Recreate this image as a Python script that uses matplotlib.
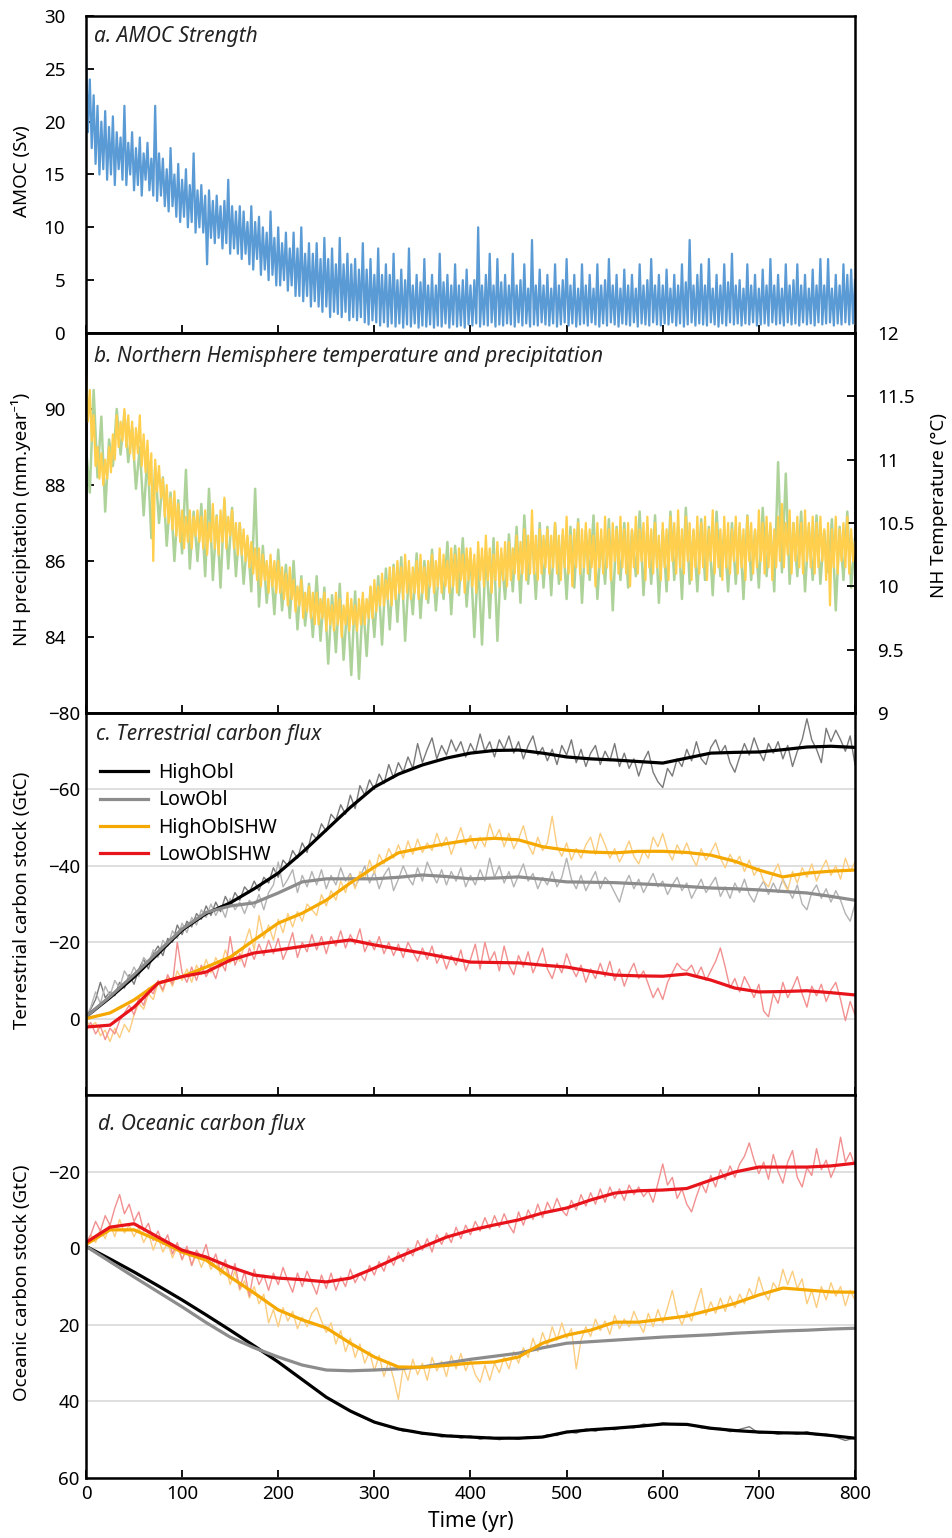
import numpy as np
import matplotlib
matplotlib.use('Agg')
import matplotlib.pyplot as plt

plt.rcParams['font.family'] = ['Noto Sans', 'DejaVu Sans']
plt.rcParams['axes.unicode_minus'] = True

# time axes (years)
yr2 = np.arange(0, 801, 2)
yr4 = np.arange(0, 801, 4)
yr5 = np.arange(0, 801, 5)
yr10 = np.arange(0, 801, 10)
yr25 = np.arange(0, 801, 25)

# a. AMOC strength (Sv), every 2 yr
amoc = [26.5, 19.0, 24.0, 17.5, 22.5, 16.0, 21.5, 15.0, 20.0, 15.5, 21.0, 14.5, 19.5, 15.0, 20.5, 14.0, 19.0, 15.5, 18.5, 14.5,
        21.5, 14.0, 18.0, 15.0, 19.0, 13.5, 17.5, 14.0, 18.5, 13.0, 17.0, 14.5, 18.0, 13.5, 16.5, 13.0, 21.5, 12.5, 17.0, 13.0,
        16.5, 12.0, 15.5, 11.5, 17.5, 12.0, 15.0, 11.0, 16.0, 10.5, 14.5, 11.0, 15.5, 10.0, 14.0, 10.5, 17.0, 9.5, 13.5, 10.0,
        14.0, 9.5, 13.0, 6.5, 13.5, 9.0, 12.5, 8.5, 13.0, 9.0, 12.0, 8.0, 12.5, 8.5, 14.5, 7.5, 12.0, 8.0, 11.5, 7.5,
        12.0, 7.0, 11.5, 7.5, 10.5, 6.5, 12.0, 6.0, 10.5, 7.0, 11.0, 5.5, 10.0, 6.0, 9.5, 5.0, 11.5, 5.5, 9.0, 4.5,
        10.0, 4.5, 8.5, 5.0, 9.5, 4.0, 8.0, 4.5, 9.5, 3.5, 8.0, 3.5, 10.0, 3.0, 7.5, 3.5, 8.5, 2.5, 7.5, 3.0,
        8.5, 2.5, 7.0, 2.0, 9.0, 2.5, 7.0, 1.5, 8.0, 2.0, 6.5, 1.8, 9.0, 1.5, 6.5, 2.0, 7.5, 1.2, 6.5, 1.5,
        7.0, 1.2, 6.0, 1.5, 8.5, 1.0, 6.0, 0.8, 7.0, 1.2, 5.5, 1.0, 8.0, 0.7, 5.5, 1.0, 6.5, 0.6, 5.5, 0.9,
        7.5, 0.6, 5.0, 0.9, 6.0, 0.5, 5.0, 0.8, 8.0, 0.6, 4.5, 0.9, 5.5, 0.5, 4.8, 0.7, 7.0, 0.6, 4.5, 0.8,
        5.5, 0.5, 4.5, 0.7, 7.5, 0.6, 4.8, 0.9, 5.5, 0.5, 4.5, 0.8, 6.5, 0.6, 4.5, 0.7, 5.0, 0.5, 6.0, 0.8,
        4.5, 0.7, 5.0, 0.9, 10.0, 0.6, 4.5, 0.8, 5.5, 0.7, 7.5, 1.0, 4.5, 0.6, 7.0, 0.8, 4.8, 0.7, 5.5, 0.9,
        4.5, 0.8, 7.5, 0.6, 4.5, 1.0, 5.0, 0.7, 6.5, 0.9, 4.2, 0.6, 8.8, 0.8, 4.5, 0.7, 6.0, 1.0, 4.5, 0.8,
        5.5, 0.7, 4.2, 0.9, 6.5, 0.6, 4.5, 0.8, 5.0, 1.0, 7.0, 0.7, 4.5, 0.9, 5.5, 0.6, 4.2, 0.8, 6.5, 0.9,
        4.5, 0.7, 5.5, 1.0, 4.2, 0.8, 6.5, 0.6, 4.5, 0.9, 5.0, 0.7, 7.0, 1.0, 4.5, 0.8, 5.5, 0.6, 4.2, 0.9,
        6.0, 0.8, 4.5, 0.7, 5.5, 1.0, 4.2, 0.6, 6.5, 0.9, 4.5, 0.8, 5.0, 0.7, 7.0, 1.0, 4.5, 0.8, 5.5, 0.7,
        4.5, 0.9, 6.0, 0.8, 4.2, 1.0, 5.5, 0.7, 4.5, 0.9, 6.5, 0.6, 4.8, 0.8, 8.8, 1.0, 4.5, 0.7, 5.5, 0.9,
        6.5, 0.8, 4.5, 0.7, 7.0, 1.0, 4.2, 0.8, 5.5, 0.6, 4.5, 0.9, 6.5, 0.7, 4.8, 1.0, 7.5, 0.8, 4.5, 0.9,
        5.0, 0.7, 4.2, 0.9, 6.5, 0.8, 4.5, 1.0, 5.5, 0.7, 4.2, 0.8, 6.0, 0.9, 4.5, 0.7, 7.0, 1.0, 4.5, 0.8,
        5.5, 0.9, 4.2, 0.7, 6.5, 1.0, 4.5, 0.8, 5.0, 0.9, 6.5, 0.7, 4.5, 1.0, 5.5, 0.8, 4.2, 0.9, 6.0, 0.7,
        4.5, 1.0, 7.0, 0.8, 4.5, 0.9, 7.0, 1.0, 4.2, 0.7, 5.5, 0.9, 4.5, 0.8, 6.5, 1.0, 5.5, 0.8, 6.0, 0.9,
        5.0]

# b. NH precipitation (mm/yr, every 4 yr) and NH temperature (C, every 2 yr)
nh_precip = [89.0, 87.8, 90.5, 88.2, 89.8, 87.3, 89.2, 88.5, 90.0, 88.8,
             89.9, 88.6, 89.5, 87.9, 89.0, 87.2, 88.8, 86.6, 88.5, 87.0,
             88.2, 86.4, 87.8, 86.0, 87.6, 86.2, 88.4, 85.8, 87.3, 86.0,
             87.5, 85.6, 87.9, 85.5, 87.2, 85.3, 87.6, 85.8, 87.4, 85.6,
             87.0, 85.4, 86.6, 85.2, 87.9, 84.8, 86.4, 84.9, 86.0, 84.6,
             86.3, 84.7, 85.9, 84.5, 86.0, 84.2, 85.6, 84.3, 85.4, 84.0,
             85.6, 83.9, 85.3, 83.3, 85.1, 83.6, 85.4, 83.4, 84.9, 83.0,
             85.2, 82.9, 85.0, 83.5, 85.3, 84.0, 85.6, 83.8, 85.8, 84.2,
             85.9, 84.4, 86.1, 83.9, 85.7, 84.6, 86.2, 84.5, 86.0, 84.9,
             86.3, 84.7, 86.0, 85.0, 86.5, 84.6, 86.4, 85.1, 86.6, 84.8,
             86.2, 84.0, 86.0, 83.8, 86.3, 84.5, 86.6, 83.9, 86.2, 85.0,
             86.7, 85.2, 86.9, 84.9, 87.2, 85.4, 86.8, 85.0, 87.0, 85.3,
             86.9, 85.1, 87.0, 85.4, 86.7, 85.0, 86.9, 85.3, 87.1, 84.9,
             86.8, 85.5, 87.2, 85.0, 86.6, 85.4, 87.1, 84.7, 86.9, 85.5,
             87.0, 85.3, 86.8, 85.6, 87.3, 85.1, 86.9, 85.4, 87.2, 84.9,
             86.8, 85.2, 87.3, 85.5, 86.9, 85.0, 87.4, 85.4, 86.8, 85.2,
             87.1, 85.5, 86.9, 85.1, 87.3, 85.6, 86.8, 85.2, 87.0, 85.4,
             86.9, 85.0, 87.2, 85.5, 86.8, 85.3, 87.4, 85.6, 86.9, 85.2,
             88.6, 85.7, 88.3, 85.4, 87.0, 85.6, 87.3, 85.2, 86.9, 85.5,
             87.2, 85.4, 86.8, 85.7, 87.1, 84.7, 86.9, 85.5, 87.3, 85.3,
             86.6]
nh_temp = [11.70, 11.30, 11.55, 11.15, 11.35, 10.95, 11.10, 10.85, 11.05, 10.80, 11.00, 10.85, 11.10, 10.90, 11.20, 11.00, 11.35, 11.10, 11.30, 11.15,
           11.40, 11.10, 11.35, 11.05, 11.30, 11.00, 11.25, 11.05, 11.35, 10.95, 11.20, 10.90, 11.15, 10.80, 11.05, 10.20, 11.00, 10.75, 10.95, 10.70,
           10.85, 10.55, 10.80, 10.50, 10.70, 10.45, 10.75, 10.40, 10.65, 10.35, 10.60, 10.30, 10.55, 10.35, 10.60, 10.30, 10.55, 10.40, 10.60, 10.35,
           10.55, 10.30, 10.60, 10.25, 10.50, 10.35, 10.65, 10.30, 10.55, 10.25, 10.60, 10.35, 10.70, 10.30, 10.55, 10.40, 10.60, 10.30, 10.50, 10.25,
           10.50, 10.25, 10.45, 10.20, 10.40, 10.15, 10.35, 10.10, 10.30, 10.05, 10.30, 10.00, 10.25, 10.05, 10.20, 9.95, 10.25, 10.00, 10.20, 9.95,
           10.20, 9.95, 10.15, 9.90, 10.10, 9.85, 10.15, 9.90, 10.05, 9.80, 10.00, 9.85, 10.05, 9.75, 9.95, 9.80, 10.00, 9.75, 9.95, 9.70,
           9.95, 9.70, 9.90, 9.75, 9.95, 9.65, 9.90, 9.70, 9.85, 9.65, 9.95, 9.70, 9.90, 9.60, 9.85, 9.70, 9.95, 9.65, 9.90, 9.70,
           9.85, 9.65, 9.90, 9.70, 9.95, 9.70, 9.90, 9.75, 10.00, 9.75, 10.05, 9.80, 10.00, 9.85, 10.10, 9.85, 10.05, 9.90, 10.15, 9.85,
           10.15, 9.90, 10.20, 9.95, 10.15, 9.90, 10.25, 9.95, 10.20, 9.90, 10.15, 9.95, 10.20, 9.90, 10.25, 9.95, 10.15, 9.90, 10.20, 10.00,
           10.25, 9.95, 10.20, 10.00, 10.30, 9.95, 10.25, 10.00, 10.20, 9.95, 10.30, 10.00, 10.25, 9.95, 10.30, 10.05, 10.25, 9.95, 10.30, 10.05,
           10.30, 10.00, 10.25, 9.95, 10.35, 10.05, 10.30, 10.00, 10.40, 10.05, 10.30, 9.95, 10.25, 10.05, 10.35, 10.00, 10.30, 10.05, 10.35, 10.00,
           10.35, 10.05, 10.30, 10.10, 10.40, 10.05, 10.35, 10.10, 10.45, 10.05, 10.40, 10.10, 10.60, 10.10, 10.40, 10.05, 10.45, 10.10, 10.40, 10.15,
           10.45, 10.10, 10.40, 10.15, 10.50, 10.10, 10.40, 10.05, 10.45, 10.15, 10.55, 10.10, 10.40, 10.00, 10.45, 10.15, 10.50, 10.10, 10.45, 10.15,
           10.50, 10.10, 10.45, 10.15, 10.40, 10.00, 10.50, 10.15, 10.45, 10.10, 10.55, 10.15, 10.45, 10.05, 10.50, 10.20, 10.45, 10.10, 10.55, 10.15,
           10.45, 10.10, 10.50, 10.00, 10.45, 10.15, 10.55, 10.10, 10.45, 10.20, 10.50, 10.05, 10.55, 10.15, 10.45, 10.10, 10.50, 10.15, 10.40, 10.05,
           10.50, 10.15, 10.45, 10.05, 10.55, 10.20, 10.50, 10.10, 10.60, 10.15, 10.45, 10.10, 10.55, 10.20, 10.50, 10.05, 10.45, 10.15, 10.55, 10.10,
           10.50, 10.15, 10.55, 10.05, 10.45, 10.20, 10.60, 10.10, 10.50, 10.15, 10.45, 10.05, 10.55, 10.15, 10.50, 10.10, 10.45, 10.20, 10.55, 10.10,
           10.50, 10.15, 10.45, 10.05, 10.55, 10.20, 10.50, 10.10, 10.45, 10.15, 10.60, 10.20, 10.50, 10.10, 10.55, 10.15, 10.50, 10.05, 10.45, 10.15,
           10.55, 10.20, 10.65, 10.15, 10.50, 10.25, 10.60, 10.10, 10.50, 10.20, 10.55, 10.15, 10.50, 10.10, 10.60, 10.20, 10.50, 10.15, 10.55, 10.10,
           10.50, 10.15, 10.55, 10.20, 10.45, 10.05, 10.50, 9.85, 10.45, 10.15, 10.55, 10.10, 10.45, 10.20, 10.50, 10.15, 10.55, 10.10, 10.45, 10.20,
           10.35]

# c. terrestrial carbon stock (GtC): raw (5 yr) and smoothed (25 yr)
terr_high_raw = [-0.5, -2.5, -5.0, -9.5, -5.5, -7.0, -6.0, -9.5, -8.0, -11.5,
                 -9.0, -13.0, -15.5, -13.0, -17.0, -19.0, -16.5, -21.0, -20.0, -24.5,
                 -22.0, -25.5, -24.0, -27.5, -26.0, -29.5, -27.0, -30.5, -28.0, -32.0,
                 -29.5, -33.0, -31.0, -34.5, -33.0, -36.0, -33.5, -37.0, -35.5, -39.5,
                 -37.0, -41.5, -40.0, -44.0, -42.0, -46.0, -43.5, -48.5, -47.0, -51.0,
                 -49.0, -53.5, -52.0, -56.0, -53.5, -58.5, -55.0, -61.0, -58.5, -62.5,
                 -60.0, -64.0, -61.5, -66.5, -63.0, -67.0, -64.5, -68.5, -65.5, -72.0,
                 -67.0, -70.5, -73.5, -68.0, -71.5, -69.0, -73.0, -70.0, -72.5, -68.5,
                 -72.0, -69.5, -74.5, -70.0, -72.5, -68.5, -73.0, -70.5, -74.0, -69.5,
                 -72.5, -68.0, -71.5, -74.0, -69.0, -71.0, -67.5, -70.5, -66.5, -71.5,
                 -69.0, -73.0, -67.0, -70.5, -66.0, -69.5, -71.5, -66.5, -70.0, -67.5,
                 -72.0, -66.0, -69.5, -65.5, -68.0, -63.5, -67.5, -70.0, -64.5, -62.0,
                 -60.5, -65.5, -63.5, -68.0, -66.0, -70.5, -67.5, -72.5, -68.0, -66.5,
                 -71.0, -73.0, -69.5, -71.5, -67.0, -64.5, -68.5, -72.0, -69.0, -73.5,
                 -70.0, -67.5, -72.0, -69.5, -72.5, -68.0, -71.5, -66.0, -70.0, -73.0,
                 -78.5, -73.0, -70.5, -67.0, -76.0, -72.5, -75.5, -73.0, -70.0, -74.0,
                 -66.5]
terr_low_raw = [-0.5, -3.0, -7.0, -4.0, -8.5, -6.0, -10.0, -8.0, -12.5, -10.5,
                -13.5, -11.0, -16.0, -14.5, -18.0, -16.0, -20.5, -19.0, -23.0, -21.0,
                -25.0, -22.5, -26.5, -24.5, -28.5, -26.5, -30.0, -27.0, -29.5, -26.5,
                -31.5, -28.5, -30.5, -27.5, -31.0, -29.0, -32.5, -28.5, -33.0, -35.0,
                -41.0, -34.5, -36.5, -39.0, -33.0, -37.5, -34.5, -38.5, -35.0, -39.0,
                -34.0, -37.5, -35.0, -39.5, -36.0, -38.0, -34.5, -37.0, -40.0, -35.5,
                -38.5, -34.0, -37.5, -39.5, -33.5, -36.5, -40.0, -37.0, -35.0, -39.5,
                -36.0, -41.0, -38.0, -35.5, -39.0, -35.0, -38.5, -36.0, -39.5, -34.5,
                -37.5, -35.0, -39.0, -36.0, -42.0, -37.0, -40.0, -35.5, -38.5, -34.5,
                -37.5, -40.5, -36.0, -38.0, -34.0, -37.0, -35.0, -38.5, -34.5, -37.0,
                -42.0, -36.5, -34.0, -37.5, -33.5, -36.0, -38.5, -34.0, -37.0, -35.5,
                -33.0, -30.5, -35.0, -37.5, -34.0, -36.5, -33.0, -35.5, -38.0, -34.5,
                -36.0, -32.5, -35.0, -37.0, -33.5, -35.5, -31.5, -34.0, -36.5, -33.0,
                -35.0, -37.0, -32.0, -34.5, -31.5, -35.5, -33.0, -36.5, -32.5, -30.5,
                -34.0, -36.0, -32.5, -35.5, -33.0, -36.5, -34.0, -31.5, -35.0, -30.0,
                -28.5, -33.0, -35.0, -31.5, -34.0, -30.5, -33.5, -31.0, -27.5, -25.5,
                -30.0]
terr_highshw_raw = [0.5, 2.0, 1.0, 4.5, 3.0, 6.0, 2.5, 5.0, 1.5, 3.5,
                    -1.0, -4.0, -2.5, -6.5, -5.0, -9.5, -7.0, -11.0, -8.5, -12.5,
                    -10.0, -13.0, -9.5, -14.0, -11.5, -15.5, -12.0, -16.0, -13.5, -18.0,
                    -14.5, -17.5, -15.0, -19.5, -23.5, -18.0, -27.0, -21.0, -24.5, -20.5,
                    -26.0, -22.5, -27.5, -24.0, -28.0, -25.5, -30.0, -28.5, -27.0, -32.5,
                    -29.5, -33.5, -31.0, -36.0, -33.0, -37.5, -34.0, -38.5, -36.5, -41.5,
                    -38.0, -43.0, -40.5, -44.5, -42.0, -45.5, -42.0, -46.5, -43.0, -47.0,
                    -43.5, -46.0, -44.0, -48.5, -45.0, -47.5, -43.0, -46.5, -50.0, -45.5,
                    -48.0, -44.5, -47.5, -45.0, -51.0, -47.0, -49.5, -45.0, -48.5, -44.5,
                    -47.0, -50.5, -45.5, -43.0, -47.5, -44.0, -46.0, -53.0, -45.0, -42.5,
                    -46.0, -41.5, -44.5, -42.0, -45.5, -47.5, -43.0, -48.5, -45.5, -42.0,
                    -44.5, -41.0, -43.5, -46.5, -42.5, -40.5, -44.0, -42.0, -47.5, -45.0,
                    -48.5, -44.0, -41.5, -45.5, -43.0, -46.0, -42.5, -40.0, -44.5, -41.5,
                    -43.5, -46.0, -42.0, -39.5, -43.0, -40.5, -42.5, -38.5, -41.5, -37.5,
                    -39.5, -36.0, -34.5, -38.0, -40.5, -36.0, -33.5, -38.5, -35.5, -39.5,
                    -37.0, -40.5, -36.0, -39.0, -41.5, -37.5, -40.0, -36.5, -42.0, -38.5,
                    -41.0]
terr_lowshw_raw = [3.0, 1.0, 4.0, 2.0, 5.5, 2.5, 4.0, 0.5, -1.5, -3.5,
                   -1.0, -5.5, -3.5, -8.0, -6.5, -10.0, -7.5, -11.5, -9.0, -20.0,
                   -12.0, -9.5, -13.5, -10.0, -14.0, -11.0, -13.5, -10.5, -15.0, -12.5,
                   -21.5, -14.0, -17.0, -13.5, -18.5, -15.5, -19.5, -16.5, -20.5, -17.0,
                   -21.0, -15.5, -18.5, -22.5, -16.0, -20.0, -17.5, -22.0, -18.0, -21.5,
                   -17.0, -21.5, -19.0, -23.0, -18.5, -22.0, -19.5, -23.5, -17.5, -20.5,
                   -18.0, -21.5, -17.0, -20.0, -16.5, -19.5, -16.0, -20.0, -17.5, -15.0,
                   -18.5, -15.5, -19.0, -14.5, -17.0, -13.0, -16.5, -14.0, -18.0, -12.5,
                   -15.5, -19.5, -13.0, -20.0, -15.0, -17.5, -12.5, -19.0, -14.0, -11.5,
                   -16.5, -13.5, -17.5, -12.0, -15.0, -18.5, -13.0, -10.5, -14.5, -12.0,
                   -17.0, -13.5, -11.0, -14.0, -9.5, -13.0, -10.5, -14.5, -11.0, -15.0,
                   -10.0, -13.0, -8.5, -12.0, -14.5, -10.5, -12.5, -9.0, -5.5, -8.0,
                   -5.0, -9.5, -12.0, -14.5, -13.0, -12.5, -14.0, -11.0, -13.5, -10.0,
                   -12.5, -15.0, -18.5, -13.5, -8.0, -10.5, -7.0, -11.0, -8.5, -5.5,
                   -9.0, -2.0, -0.5, -6.5, -4.0, -9.5, -5.5, -8.0, -11.0, -6.5,
                   -3.0, -8.5, -6.0, -9.0, -4.5, -7.5, -9.5, -5.0, 0.5, -4.5,
                   -1.0]
terr_high = [-0.5, -5.5, -10.9, -17.0, -23.2, -27.5, -30.3, -34.0, -38.1, -43.5, -49.4,
             -55.3, -60.6, -64.0, -66.4, -68.2, -69.5, -70.2, -70.3, -69.5, -68.5, -68.0,
             -67.7, -67.3, -66.9, -68.2, -69.5, -69.7, -69.8, -70.4, -71.1, -71.3, -71.0]
terr_low = [-0.5, -5.8, -11.5, -17.5, -23.5, -27.8, -29.5, -30.3, -32.9, -35.8, -36.6,
            -36.6, -36.6, -37.0, -37.6, -37.2, -36.6, -36.8, -37.1, -36.5, -35.8, -35.7,
            -35.6, -35.3, -35.0, -34.6, -34.2, -34.0, -33.7, -33.3, -32.9, -32.0, -31.0]
terr_highshw = [0.0, -1.5, -4.9, -9.3, -11.0, -13.5, -16.1, -20.6, -25.0, -27.6, -31.0,
                -35.5, -39.7, -43.4, -44.7, -45.8, -46.8, -47.2, -46.8, -45.0, -44.1, -43.6,
                -43.4, -43.8, -43.8, -43.5, -42.8, -41.2, -38.9, -37.1, -38.1, -38.6, -38.9]
terr_lowshw = [2.2, 1.7, -3.0, -9.3, -11.0, -12.2, -15.3, -17.2, -18.0, -18.9, -19.8,
               -20.6, -19.3, -18.2, -17.2, -16.0, -14.8, -14.7, -14.6, -14.0, -13.5, -12.4,
               -11.4, -11.2, -11.1, -11.7, -10.1, -8.0, -7.0, -7.1, -7.3, -6.8, -6.2]

# d. oceanic carbon stock (GtC)
ocean_high_raw = [-0.5, 0.8, 2.1, 3.5, 4.8, 6.2, 7.6, 9.1, 10.6, 12.0,
                  13.5, 15.1, 16.6, 18.2, 19.8, 21.4, 23.0, 24.7, 26.3, 28.0,
                  29.7, 31.6, 33.4, 35.2, 37.1, 38.9, 40.4, 41.8, 43.3, 44.4,
                  45.4, 46.3, 46.8, 47.8, 47.6, 48.6, 48.4, 49.3, 48.8, 49.6,
                  49.0, 49.9, 49.3, 50.0, 49.4, 49.9, 49.2, 49.6, 48.7, 48.9,
                  47.8, 48.3, 47.2, 47.8, 46.9, 47.4, 46.6, 46.9, 45.9, 46.3,
                  45.6, 45.9, 46.2, 46.1, 46.9, 47.2, 47.0, 47.9, 47.3, 46.6,
                  48.3, 48.0, 48.6, 48.1, 48.6, 47.9, 48.8, 48.5, 49.3, 50.2,
                  49.5]
ocean_low_raw = [-0.5, 1.1, 2.7, 4.3, 5.9, 7.5, 9.1, 10.6, 12.2, 13.7,
                 15.3, 17.0, 18.6, 20.2, 21.8, 23.2, 24.6, 25.4, 26.7, 27.4,
                 28.4, 29.3, 30.1, 30.9, 31.3, 31.8, 31.8, 32.1, 31.9, 31.9,
                 31.8, 31.6, 31.6, 31.4, 31.2, 31.0, 30.6, 30.2, 29.8, 29.4,
                 29.0, 28.7, 28.3, 28.0, 27.7, 27.4, 26.8, 26.3, 25.7, 25.2,
                 24.8, 24.7, 24.5, 24.3, 24.2, 24.0, 23.9, 23.7, 23.5, 23.4,
                 23.2, 23.1, 22.9, 22.8, 22.7, 22.6, 22.4, 22.3, 22.2, 22.0,
                 21.9, 21.8, 21.7, 21.6, 21.5, 21.4, 21.3, 21.2, 21.1, 21.0,
                 20.9]
ocean_highshw_raw = [-1.0, -3.5, -1.5, -5.0, -2.5, -6.5, -3.0, -7.5, -4.0, -6.0,
                     -3.0, -5.5, -1.5, -4.0, 0.5, -3.0, 1.0, -1.5, 2.5, -0.5,
                     3.0, 0.0, 4.5, 1.5, 5.0, 2.0, 5.5, 3.0, 7.0, 4.5,
                     9.5, 6.0, 11.0, 8.5, 13.0, 10.0, 14.5, 12.0, 19.5, 16.0,
                     20.5, 15.5, 19.0, 16.5, 21.0, 18.0, 20.5, 17.0, 15.5, 19.0,
                     22.0, 19.5, 25.0, 21.5, 27.0, 23.5, 28.5, 25.0, 30.0, 27.0,
                     32.0, 28.0, 33.5, 29.5, 34.0, 39.5, 31.0, 34.5, 29.0, 33.0,
                     30.0, 34.5, 28.5, 32.0, 29.5, 33.5, 28.0, 31.5, 27.5, 32.0,
                     29.0, 33.0, 35.0, 30.5, 34.5, 30.0, 32.5, 28.5, 31.5, 27.0,
                     30.0, 26.0, 28.5, 23.5, 27.0, 22.0, 25.5, 20.5, 24.0, 19.5,
                     23.5, 21.0, 31.5, 24.0, 20.5, 23.0, 18.5, 21.5, 19.0, 22.5,
                     17.5, 21.0, 18.5, 20.5, 16.5, 19.5, 22.0, 17.0, 20.5, 16.0,
                     19.5, 15.5, 11.0, 17.0, 20.0, 16.5, 19.0, 14.5, 10.5, 17.5,
                     14.0, 17.0, 13.0, 16.5, 12.5, 15.5, 12.0, 14.5, 10.5, 13.0,
                     7.5, 11.5, 13.5, 9.0, 11.0, 5.5, 9.5, 6.0, 10.5, 8.0,
                     14.5, 11.0, 15.5, 10.0, 13.5, 9.0, 12.5, 10.0, 15.0, 11.0,
                     13.5]
ocean_lowshw_raw = [-1.5, -3.5, -7.0, -4.5, -8.5, -6.0, -10.5, -14.0, -9.0, -11.5,
                    -7.0, -9.5, -4.5, -6.5, -2.0, -4.5, -1.0, -3.5, 1.5, -1.5,
                    3.0, -0.5, 4.5, 0.5, 2.5, -1.0, 4.5, 1.5, 6.0, 3.0,
                    8.0, 4.0, 10.5, 6.0, 12.5, 5.5, 9.5, 7.0, 11.0, 6.5,
                    9.5, 5.0, 8.5, 11.5, 6.5, 10.0, 6.0, 9.0, 12.0, 7.0,
                    10.5, 6.5, 11.0, 7.5, 10.0, 5.5, 9.0, 6.5, 8.5, 4.5,
                    7.0, 3.5, 6.0, 2.0, 4.5, 1.0, 3.5, 0.0, 2.0, -2.0,
                    0.5, -2.5, 1.0, -3.5, -1.0, -4.0, -1.5, -5.5, -2.5, -6.0,
                    -3.5, -7.0, -4.5, -8.0, -5.0, -8.5, -5.5, -9.0, -6.0, -4.0,
                    -9.5, -6.0, -10.0, -7.5, -11.5, -8.0, -12.0, -9.5, -13.0, -10.0,
                    -8.5, -12.5, -10.0, -14.0, -11.0, -14.5, -11.5, -15.5, -12.0, -16.0,
                    -13.0, -15.5, -12.5, -16.5, -14.0, -16.0, -13.5, -15.0, -12.0, -17.0,
                    -22.0, -16.5, -18.5, -13.0, -15.5, -11.5, -9.5, -13.5, -17.0, -14.5,
                    -19.0, -16.0, -20.5, -18.0, -21.5, -18.5, -22.0, -24.0, -27.5, -23.0,
                    -19.5, -22.5, -18.0, -24.5, -20.0, -17.0, -22.5, -25.5, -18.5, -16.0,
                    -21.0, -19.0, -26.0, -20.5, -23.0, -18.5, -21.5, -29.0, -22.5, -25.0,
                    -21.5]
ocean_high = [-0.5, 2.8, 6.2, 9.8, 13.5, 17.4, 21.4, 25.5, 29.7, 34.3, 38.9, 42.5,
              45.4, 47.2, 48.3, 49.0, 49.3, 49.6, 49.6, 49.3, 48.0, 47.4, 47.0, 46.5,
              45.9, 46.0, 47.0, 47.6, 48.0, 48.2, 48.3, 48.9, 49.6]
ocean_low = [-0.5, 3.5, 7.5, 11.4, 15.3, 19.4, 23.2, 26.0, 28.4, 30.5, 31.8, 32.0,
             31.8, 31.5, 31.0, 30.0, 29.0, 28.2, 27.4, 26.0, 24.8, 24.4, 24.0, 23.6,
             23.2, 22.9, 22.6, 22.2, 21.9, 21.6, 21.4, 21.1, 20.9]
ocean_highshw = [-1.0, -4.8, -4.8, -2.1, 1.0, 3.1, 7.5, 11.7, 16.1, 18.7, 20.8, 24.8,
                 28.4, 31.0, 31.1, 30.6, 30.0, 29.7, 28.4, 24.8, 22.7, 21.4, 19.3, 19.3,
                 18.5, 17.7, 16.1, 14.4, 12.2, 10.4, 10.9, 11.4, 11.5]
ocean_lowshw = [-1.5, -5.5, -6.4, -2.9, 0.5, 2.3, 4.9, 7.0, 7.8, 8.2, 8.8, 7.8, 5.2,
                2.3, -0.3, -2.9, -4.7, -6.1, -7.4, -9.2, -10.5, -12.6, -14.4, -15.0,
                -15.2, -15.6, -17.8, -19.9, -21.2, -21.2, -21.2, -21.5, -22.2]

runs = ['HighObl', 'LowObl', 'HighOblSHW', 'LowOblSHW']
col_smooth = ['#000000', '#8c8c8c', '#f5a800', '#e8141c']
col_raw = ['#7a7a7a', '#b3b3b3', '#fbcd80', '#f29090']

fs = 13.5
tfs = 15
fig = plt.figure(figsize=(9.52, 15.38), dpi=100)
L, W = 0.0903, 0.8078
ax_a = fig.add_axes([L, 0.7835, W, 0.2061])
ax_b = fig.add_axes([L, 0.5364, W, 0.2471])
ax_c = fig.add_axes([L, 0.2880, W, 0.2484])
ax_d = fig.add_axes([L, 0.0390, W, 0.2490])


def frame(ax, ylab=None, ypad=4.5, ylen=0):
    ax.set_xlim(0, 800)
    ax.set_xticks(range(0, 801, 100))
    ax.tick_params(axis='x', direction='in', length=6, width=1.3, labelsize=fs, pad=5)
    ax.tick_params(axis='y', direction='in', length=ylen, width=1.3, labelsize=fs, pad=ypad)
    for s in ax.spines.values():
        s.set_linewidth(1.8)
    if ylab:
        ax.set_ylabel(ylab, fontsize=fs)
        ax.yaxis.set_label_coords(-0.072, 0.51)


# a. AMOC
ax_a.plot(yr2, amoc, color='#5b9bd5', lw=1.6)
ax_a.set_ylim(0, 30)
ax_a.set_yticks(range(0, 31, 5))
frame(ax_a, 'AMOC (Sv)', ypad=15, ylen=6)
ax_a.tick_params(axis='x', labelbottom=False)
ax_a.text(0.010, 0.970, 'a. AMOC Strength', transform=ax_a.transAxes,
          style='italic', fontsize=tfs, va='top', ha='left', color='#222222')

# b. NH precipitation + temperature
ax_b.plot(yr4, nh_precip, color='#aed39a', lw=1.8)
ax_b.set_ylim(82, 92)
ax_b.set_yticks([84, 86, 88, 90])
frame(ax_b, 'NH precipitation (mm.year\u207b\u00b9)', ypad=15, ylen=6)
ax_b.tick_params(axis='x', labelbottom=False)
ax_b2 = ax_b.twinx()
ax_b2.plot(yr2, nh_temp, color='#ffcf4d', lw=1.6)
ax_b2.set_ylim(9, 12)
ax_b2.set_yticks([9, 9.5, 10, 10.5, 11, 11.5, 12])
ax_b2.set_yticklabels(['9', '9.5', '10', '10.5', '11', '11.5', '12'])
ax_b2.tick_params(axis='y', direction='in', length=6, width=1.3, labelsize=fs, pad=16)
for s in ax_b2.spines.values():
    s.set_linewidth(1.8)
ax_b2.set_ylabel('NH Temperature (\u00b0C)', fontsize=fs)
ax_b2.yaxis.set_label_coords(1.098, 0.547)
ax_b.text(0.010, 0.966, 'b. Northern Hemisphere temperature and precipitation',
          transform=ax_b.transAxes, style='italic', fontsize=tfs, va='top', ha='left',
          color='#222222')

# c. terrestrial carbon
for raw, c in zip([terr_high_raw, terr_low_raw, terr_highshw_raw, terr_lowshw_raw], col_raw):
    ax_c.plot(yr5, raw, color=c, lw=1.0)
for sm, c, lab in zip([terr_high, terr_low, terr_highshw, terr_lowshw], col_smooth, runs):
    ax_c.plot(yr25, sm, color=c, lw=2.3, label=lab)
ax_c.set_ylim(20, -80)
ax_c.set_yticks([-80, -60, -40, -20, 0])
ax_c.yaxis.grid(True, color='#d9d9d9', lw=1.2)
ax_c.set_axisbelow(True)
frame(ax_c, 'Terrestrial carbon stock (GtC)')
ax_c.tick_params(axis='x', labelbottom=False)
ax_c.text(0.013, 0.970, 'c. Terrestrial carbon flux', transform=ax_c.transAxes,
          style='italic', fontsize=tfs, va='top', ha='left', color='#222222')
ax_c.legend(loc='upper left', bbox_to_anchor=(0.0, 0.905), frameon=False,
            fontsize=14, handlelength=2.5, handletextpad=0.5, labelspacing=0.38,
            borderaxespad=0.3)

# d. oceanic carbon
ax_d.plot(yr10, ocean_high_raw, color=col_raw[0], lw=1.0)
ax_d.plot(yr10, ocean_low_raw, color=col_raw[1], lw=1.0)
ax_d.plot(yr5, ocean_highshw_raw, color=col_raw[2], lw=1.0)
ax_d.plot(yr5, ocean_lowshw_raw, color=col_raw[3], lw=1.0)
for sm, c in zip([ocean_high, ocean_low, ocean_highshw, ocean_lowshw], col_smooth):
    ax_d.plot(yr25, sm, color=c, lw=2.3)
ax_d.set_ylim(60, -40)
ax_d.set_yticks([-20, 0, 20, 40, 60])
ax_d.yaxis.grid(True, color='#d9d9d9', lw=1.2)
ax_d.set_axisbelow(True)
frame(ax_d, 'Oceanic carbon stock (GtC)')
ax_d.set_xlabel('Time (yr)', fontsize=15, labelpad=6)
ax_d.text(0.015, 0.950, 'd. Oceanic carbon flux', transform=ax_d.transAxes,
          style='italic', fontsize=tfs, va='top', ha='left', color='#222222')

fig.savefig('out.png', dpi=100)
